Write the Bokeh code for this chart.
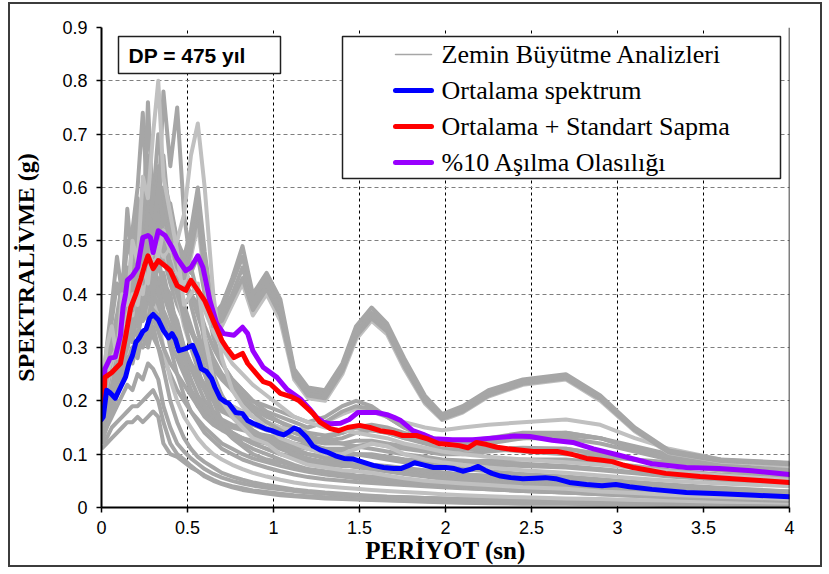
from bokeh.plotting import figure
from bokeh.models import Range1d, FixedTicker, CustomJSTickFormatter, Span, BoxAnnotation, Label
from bokeh.embed import file_html
from bokeh.resources import INLINE

# ---------------- data ----------------
# common period grid of the individual site-response spectra (s)
GX = [0.00, 0.03, 0.06, 0.09, 0.12, 0.15, 0.18, 0.21, 0.24, 0.27,
      0.30, 0.33, 0.36, 0.40, 0.44, 0.48, 0.52, 0.56, 0.60, 0.65,
      0.70, 0.76, 0.82, 0.88, 0.96, 1.04, 1.12, 1.20, 1.30, 1.40,
      1.48, 1.57, 1.66, 1.76, 1.88, 1.98, 2.10, 2.25, 2.45, 2.70,
      2.90, 3.10, 3.30, 3.60, 4.00]

A1 = [0.20, 0.27, 0.31, 0.34, 0.40, 0.44, 0.41, 0.50, 0.46, 0.55,
      0.52, 0.60, 0.53, 0.57, 0.50, 0.47, 0.52, 0.60, 0.48, 0.36,
      0.38, 0.43, 0.49, 0.40, 0.44, 0.39, 0.26, 0.225, 0.22, 0.27,
      0.34, 0.375, 0.345, 0.28, 0.21, 0.175, 0.19, 0.22, 0.24, 0.25,
      0.21, 0.15, 0.107, 0.09, 0.084]
A2 = [0.19, 0.25, 0.29, 0.32, 0.37, 0.41, 0.39, 0.47, 0.43, 0.51,
      0.49, 0.55, 0.50, 0.53, 0.47, 0.45, 0.50, 0.57, 0.46, 0.35,
      0.37, 0.42, 0.47, 0.39, 0.43, 0.38, 0.255, 0.22, 0.215, 0.265,
      0.33, 0.365, 0.34, 0.275, 0.205, 0.17, 0.185, 0.215, 0.238, 0.247,
      0.207, 0.148, 0.105, 0.089, 0.083]
A3 = [0.18, 0.24, 0.28, 0.31, 0.35, 0.39, 0.37, 0.45, 0.42, 0.48,
      0.47, 0.53, 0.48, 0.50, 0.45, 0.43, 0.48, 0.55, 0.44, 0.34,
      0.36, 0.40, 0.45, 0.38, 0.42, 0.37, 0.25, 0.215, 0.21, 0.26,
      0.325, 0.36, 0.335, 0.27, 0.20, 0.168, 0.182, 0.212, 0.235, 0.244,
      0.204, 0.146, 0.104, 0.088, 0.082]
A4 = [0.21, 0.26, 0.30, 0.35, 0.38, 0.43, 0.40, 0.49, 0.44, 0.53,
      0.50, 0.57, 0.51, 0.54, 0.48, 0.44, 0.49, 0.58, 0.45, 0.34,
      0.35, 0.39, 0.43, 0.37, 0.41, 0.36, 0.245, 0.21, 0.205, 0.255,
      0.32, 0.355, 0.33, 0.265, 0.198, 0.166, 0.18, 0.21, 0.232, 0.242,
      0.203, 0.145, 0.103, 0.087, 0.081]
A5 = [0.17, 0.23, 0.27, 0.30, 0.34, 0.38, 0.36, 0.44, 0.40, 0.47,
      0.45, 0.51, 0.47, 0.49, 0.44, 0.42, 0.47, 0.53, 0.43, 0.33,
      0.34, 0.38, 0.42, 0.36, 0.40, 0.35, 0.24, 0.205, 0.20, 0.25,
      0.315, 0.35, 0.325, 0.26, 0.195, 0.164, 0.178, 0.208, 0.23, 0.24,
      0.20, 0.143, 0.102, 0.086, 0.080]
B1 = [0.22, 0.30, 0.34, 0.28, 0.40, 0.38, 0.50, 0.46, 0.62, 0.58,
      0.70, 0.80, 0.62, 0.55, 0.48, 0.38, 0.40, 0.42, 0.32, 0.24,
      0.20, 0.17, 0.15, 0.13, 0.12, 0.10, 0.09, 0.08, 0.075, 0.07,
      0.068, 0.065, 0.06, 0.055, 0.05, 0.048, 0.045, 0.042, 0.038, 0.035,
      0.03, 0.027, 0.024, 0.02, 0.016]
B2 = [0.18, 0.26, 0.30, 0.36, 0.32, 0.45, 0.40, 0.56, 0.50, 0.76,
      0.55, 0.60, 0.66, 0.52, 0.45, 0.36, 0.33, 0.30, 0.25, 0.20,
      0.16, 0.14, 0.12, 0.11, 0.10, 0.09, 0.08, 0.072, 0.068, 0.065,
      0.06, 0.058, 0.055, 0.05, 0.046, 0.043, 0.04, 0.037, 0.034, 0.03,
      0.027, 0.024, 0.021, 0.018, 0.014]
B3 = [0.16, 0.22, 0.28, 0.32, 0.40, 0.36, 0.52, 0.60, 0.74, 0.55,
      0.62, 0.50, 0.58, 0.45, 0.42, 0.35, 0.30, 0.26, 0.22, 0.18,
      0.15, 0.13, 0.115, 0.10, 0.09, 0.085, 0.078, 0.07, 0.065, 0.06,
      0.056, 0.053, 0.05, 0.047, 0.044, 0.041, 0.038, 0.035, 0.032, 0.028,
      0.025, 0.022, 0.019, 0.016, 0.012]
B4 = [0.20, 0.27, 0.25, 0.33, 0.30, 0.38, 0.45, 0.42, 0.52, 0.48,
      0.60, 0.56, 0.78, 0.64, 0.75, 0.55, 0.45, 0.40, 0.30, 0.25,
      0.21, 0.18, 0.16, 0.14, 0.125, 0.115, 0.10, 0.09, 0.085, 0.08,
      0.076, 0.072, 0.068, 0.063, 0.058, 0.054, 0.05, 0.046, 0.042, 0.038,
      0.034, 0.03, 0.027, 0.024, 0.02]
B5 = [0.19, 0.25, 0.28, 0.30, 0.35, 0.33, 0.40, 0.38, 0.45, 0.42,
      0.50, 0.47, 0.52, 0.48, 0.50, 0.55, 0.66, 0.72, 0.60, 0.40,
      0.28, 0.22, 0.19, 0.17, 0.15, 0.13, 0.12, 0.11, 0.10, 0.10,
      0.11, 0.12, 0.115, 0.10, 0.09, 0.085, 0.08, 0.075, 0.07, 0.065,
      0.06, 0.055, 0.05, 0.045, 0.04]
B6 = [0.20, 0.30, 0.38, 0.47, 0.40, 0.56, 0.45, 0.52, 0.48, 0.60,
      0.52, 0.64, 0.55, 0.50, 0.44, 0.38, 0.34, 0.30, 0.26, 0.22,
      0.19, 0.17, 0.15, 0.135, 0.12, 0.11, 0.10, 0.092, 0.085, 0.08,
      0.076, 0.072, 0.068, 0.064, 0.06, 0.056, 0.052, 0.048, 0.044, 0.04,
      0.036, 0.032, 0.029, 0.025, 0.02]
C1 = [0.17, 0.22, 0.26, 0.30, 0.35, 0.40, 0.45, 0.42, 0.50, 0.47,
      0.55, 0.52, 0.48, 0.45, 0.40, 0.34, 0.30, 0.27, 0.25, 0.22,
      0.20, 0.19, 0.18, 0.17, 0.16, 0.15, 0.145, 0.15, 0.16, 0.175,
      0.185, 0.18, 0.17, 0.16, 0.15, 0.145, 0.15, 0.155, 0.16, 0.165,
      0.155, 0.13, 0.11, 0.09, 0.075]
C2 = [0.15, 0.20, 0.24, 0.28, 0.30, 0.35, 0.38, 0.36, 0.44, 0.40,
      0.46, 0.42, 0.44, 0.38, 0.35, 0.30, 0.27, 0.24, 0.22, 0.20,
      0.18, 0.17, 0.16, 0.155, 0.15, 0.14, 0.13, 0.125, 0.13, 0.14,
      0.15, 0.145, 0.14, 0.13, 0.125, 0.12, 0.125, 0.13, 0.14, 0.14,
      0.13, 0.11, 0.095, 0.08, 0.065]
C3 = [0.14, 0.18, 0.22, 0.25, 0.28, 0.32, 0.35, 0.40, 0.38, 0.45,
      0.42, 0.48, 0.40, 0.36, 0.32, 0.28, 0.24, 0.21, 0.19, 0.17,
      0.16, 0.15, 0.145, 0.14, 0.135, 0.13, 0.12, 0.115, 0.11, 0.11,
      0.115, 0.12, 0.115, 0.11, 0.105, 0.10, 0.10, 0.105, 0.11, 0.11,
      0.10, 0.09, 0.08, 0.07, 0.06]
C4 = [0.16, 0.21, 0.25, 0.27, 0.33, 0.30, 0.38, 0.34, 0.42, 0.39,
      0.44, 0.40, 0.42, 0.40, 0.33, 0.29, 0.26, 0.23, 0.20, 0.18,
      0.165, 0.155, 0.15, 0.14, 0.13, 0.125, 0.115, 0.11, 0.105, 0.10,
      0.10, 0.098, 0.095, 0.09, 0.088, 0.085, 0.085, 0.088, 0.09, 0.09,
      0.085, 0.078, 0.07, 0.062, 0.055]
C5 = [0.13, 0.19, 0.23, 0.26, 0.29, 0.34, 0.31, 0.38, 0.35, 0.41,
      0.38, 0.43, 0.37, 0.34, 0.30, 0.26, 0.22, 0.19, 0.17, 0.155,
      0.145, 0.135, 0.13, 0.125, 0.12, 0.115, 0.105, 0.10, 0.095, 0.095,
      0.10, 0.10, 0.095, 0.09, 0.085, 0.08, 0.08, 0.08, 0.078, 0.075,
      0.07, 0.064, 0.058, 0.052, 0.046]
C6 = [0.15, 0.20, 0.26, 0.24, 0.30, 0.36, 0.33, 0.40, 0.37, 0.43,
      0.40, 0.46, 0.42, 0.38, 0.34, 0.30, 0.27, 0.25, 0.23, 0.21,
      0.19, 0.175, 0.165, 0.155, 0.145, 0.14, 0.13, 0.125, 0.12, 0.12,
      0.125, 0.125, 0.12, 0.115, 0.11, 0.105, 0.11, 0.12, 0.13, 0.135,
      0.13, 0.115, 0.10, 0.088, 0.078]
D1 = [0.14, 0.17, 0.20, 0.22, 0.25, 0.28, 0.30, 0.28, 0.33, 0.30,
      0.34, 0.30, 0.26, 0.20, 0.16, 0.13, 0.11, 0.095, 0.085, 0.075,
      0.065, 0.058, 0.052, 0.047, 0.042, 0.038, 0.034, 0.031, 0.028, 0.026,
      0.024, 0.022, 0.02, 0.019, 0.018, 0.017, 0.016, 0.015, 0.013, 0.012,
      0.011, 0.01, 0.009, 0.008, 0.007]
D2 = [0.12, 0.13, 0.15, 0.16, 0.17, 0.18, 0.19, 0.19, 0.20, 0.21,
      0.22, 0.20, 0.16, 0.12, 0.10, 0.09, 0.078, 0.068, 0.06, 0.052,
      0.045, 0.04, 0.036, 0.032, 0.029, 0.026, 0.023, 0.021, 0.019, 0.018,
      0.016, 0.015, 0.014, 0.013, 0.012, 0.011, 0.01, 0.009, 0.008, 0.008,
      0.007, 0.007, 0.006, 0.006, 0.005]
D3 = [0.15, 0.19, 0.23, 0.26, 0.28, 0.31, 0.35, 0.33, 0.38, 0.36,
      0.40, 0.35, 0.30, 0.24, 0.20, 0.17, 0.15, 0.13, 0.115, 0.10,
      0.09, 0.08, 0.072, 0.065, 0.058, 0.052, 0.047, 0.043, 0.04, 0.037,
      0.035, 0.033, 0.031, 0.029, 0.027, 0.025, 0.023, 0.021, 0.019, 0.017,
      0.016, 0.014, 0.013, 0.011, 0.009]
D4 = [0.13, 0.15, 0.17, 0.19, 0.21, 0.23, 0.22, 0.25, 0.24, 0.27,
      0.26, 0.24, 0.19, 0.15, 0.12, 0.105, 0.092, 0.082, 0.072, 0.063,
      0.056, 0.05, 0.045, 0.041, 0.037, 0.034, 0.031, 0.028, 0.026, 0.024,
      0.022, 0.021, 0.02, 0.019, 0.018, 0.017, 0.016, 0.015, 0.014, 0.013,
      0.012, 0.011, 0.01, 0.009, 0.008]
D5 = [0.16, 0.20, 0.24, 0.27, 0.31, 0.34, 0.38, 0.36, 0.42, 0.40,
      0.44, 0.40, 0.36, 0.30, 0.25, 0.21, 0.18, 0.16, 0.14, 0.125,
      0.11, 0.10, 0.09, 0.083, 0.075, 0.068, 0.062, 0.057, 0.053, 0.05,
      0.048, 0.046, 0.044, 0.042, 0.04, 0.038, 0.036, 0.034, 0.031, 0.028,
      0.026, 0.024, 0.022, 0.019, 0.016]
D6 = [0.11, 0.12, 0.13, 0.14, 0.15, 0.16, 0.16, 0.17, 0.16, 0.17,
      0.18, 0.17, 0.12, 0.10, 0.095, 0.085, 0.075, 0.068, 0.058, 0.05,
      0.044, 0.038, 0.033, 0.03, 0.026, 0.023, 0.021, 0.019, 0.017, 0.016,
      0.015, 0.014, 0.013, 0.012, 0.011, 0.01, 0.009, 0.008, 0.007, 0.007,
      0.006, 0.006, 0.005, 0.005, 0.004]
E1 = [0.18, 0.24, 0.28, 0.32, 0.36, 0.40, 0.44, 0.48, 0.45, 0.52,
      0.48, 0.55, 0.50, 0.46, 0.44, 0.42, 0.40, 0.38, 0.34, 0.30,
      0.27, 0.24, 0.22, 0.20, 0.19, 0.18, 0.17, 0.16, 0.17, 0.19,
      0.20, 0.19, 0.17, 0.15, 0.13, 0.12, 0.115, 0.11, 0.105, 0.10,
      0.095, 0.09, 0.085, 0.08, 0.07]
E2 = [0.17, 0.22, 0.27, 0.30, 0.34, 0.38, 0.42, 0.40, 0.47, 0.44,
      0.50, 0.46, 0.52, 0.44, 0.40, 0.36, 0.33, 0.31, 0.28, 0.26,
      0.24, 0.22, 0.20, 0.185, 0.17, 0.16, 0.15, 0.14, 0.135, 0.14,
      0.15, 0.155, 0.15, 0.14, 0.13, 0.12, 0.12, 0.125, 0.13, 0.13,
      0.12, 0.105, 0.09, 0.075, 0.062]
F1 = [0.16, 0.21, 0.25, 0.29, 0.33, 0.37, 0.42, 0.39, 0.46, 0.43,
      0.49, 0.45, 0.47, 0.42, 0.38, 0.35, 0.33, 0.31, 0.29, 0.27,
      0.25, 0.23, 0.21, 0.19, 0.175, 0.16, 0.145, 0.135, 0.125, 0.12,
      0.115, 0.11, 0.105, 0.10, 0.095, 0.09, 0.088, 0.085, 0.082, 0.078,
      0.072, 0.066, 0.06, 0.052, 0.045]
F2 = [0.14, 0.19, 0.23, 0.27, 0.31, 0.29, 0.36, 0.34, 0.40, 0.37,
      0.42, 0.39, 0.36, 0.33, 0.31, 0.29, 0.27, 0.25, 0.23, 0.21,
      0.19, 0.17, 0.155, 0.14, 0.13, 0.12, 0.11, 0.10, 0.095, 0.09,
      0.085, 0.08, 0.076, 0.072, 0.068, 0.064, 0.06, 0.056, 0.052, 0.048,
      0.044, 0.04, 0.036, 0.031, 0.026]
F3 = [0.18, 0.25, 0.31, 0.36, 0.42, 0.38, 0.47, 0.44, 0.55, 0.50,
      0.58, 0.53, 0.60, 0.52, 0.47, 0.43, 0.40, 0.36, 0.32, 0.28,
      0.25, 0.22, 0.20, 0.18, 0.16, 0.145, 0.13, 0.12, 0.11, 0.105,
      0.10, 0.095, 0.09, 0.085, 0.08, 0.076, 0.072, 0.068, 0.063, 0.058,
      0.053, 0.048, 0.043, 0.037, 0.03]
F4 = [0.15, 0.20, 0.22, 0.26, 0.29, 0.33, 0.31, 0.37, 0.35, 0.39,
      0.37, 0.36, 0.34, 0.31, 0.28, 0.25, 0.22, 0.20, 0.18, 0.165,
      0.15, 0.14, 0.13, 0.12, 0.11, 0.10, 0.095, 0.09, 0.085, 0.08,
      0.078, 0.075, 0.072, 0.068, 0.065, 0.062, 0.058, 0.054, 0.05, 0.046,
      0.042, 0.038, 0.034, 0.03, 0.025]
F5 = [0.13, 0.16, 0.19, 0.22, 0.25, 0.28, 0.27, 0.31, 0.30, 0.33,
      0.32, 0.30, 0.28, 0.25, 0.22, 0.20, 0.18, 0.165, 0.15, 0.135,
      0.12, 0.11, 0.10, 0.092, 0.085, 0.078, 0.072, 0.067, 0.062, 0.058,
      0.055, 0.052, 0.049, 0.046, 0.043, 0.04, 0.037, 0.034, 0.031, 0.028,
      0.025, 0.022, 0.02, 0.017, 0.014]
F6 = [0.17, 0.23, 0.29, 0.34, 0.38, 0.43, 0.40, 0.50, 0.45, 0.56,
      0.51, 0.62, 0.57, 0.52, 0.48, 0.45, 0.42, 0.40, 0.37, 0.33,
      0.30, 0.27, 0.25, 0.23, 0.21, 0.19, 0.17, 0.16, 0.15, 0.145,
      0.14, 0.135, 0.13, 0.12, 0.112, 0.105, 0.10, 0.095, 0.09, 0.085,
      0.08, 0.074, 0.068, 0.06, 0.052]
F7 = [0.19, 0.28, 0.35, 0.42, 0.38, 0.50, 0.46, 0.58, 0.52, 0.66,
      0.58, 0.70, 0.62, 0.56, 0.50, 0.44, 0.38, 0.33, 0.28, 0.24,
      0.21, 0.18, 0.16, 0.145, 0.13, 0.12, 0.11, 0.10, 0.092, 0.086,
      0.08, 0.075, 0.07, 0.066, 0.062, 0.058, 0.054, 0.05, 0.046, 0.042,
      0.038, 0.034, 0.03, 0.026, 0.021]
F8 = [0.12, 0.15, 0.18, 0.21, 0.24, 0.27, 0.30, 0.29, 0.33, 0.31,
      0.36, 0.33, 0.30, 0.27, 0.25, 0.23, 0.21, 0.19, 0.175, 0.16,
      0.15, 0.14, 0.13, 0.12, 0.11, 0.10, 0.092, 0.085, 0.08, 0.078,
      0.078, 0.08, 0.078, 0.074, 0.07, 0.066, 0.062, 0.06, 0.058, 0.055,
      0.05, 0.045, 0.04, 0.035, 0.03]
F9 = [0.16, 0.22, 0.27, 0.32, 0.36, 0.41, 0.39, 0.46, 0.44, 0.50,
      0.47, 0.53, 0.50, 0.55, 0.50, 0.46, 0.44, 0.47, 0.40, 0.32,
      0.27, 0.24, 0.22, 0.20, 0.18, 0.17, 0.16, 0.15, 0.16, 0.18,
      0.19, 0.185, 0.17, 0.15, 0.135, 0.125, 0.12, 0.125, 0.135, 0.14,
      0.13, 0.11, 0.095, 0.08, 0.068]
F10 = [0.14, 0.18, 0.21, 0.24, 0.27, 0.30, 0.34, 0.32, 0.37, 0.35,
       0.40, 0.38, 0.35, 0.32, 0.30, 0.28, 0.26, 0.245, 0.23, 0.215,
       0.20, 0.19, 0.18, 0.17, 0.16, 0.15, 0.14, 0.13, 0.125, 0.13,
       0.14, 0.145, 0.14, 0.13, 0.12, 0.11, 0.108, 0.11, 0.112, 0.11,
       0.10, 0.09, 0.08, 0.07, 0.06]

GRAY_CURVES = [D2, D6, D4, F5, D1, D3, F2, D5, F4, F8, C5, C4, C3, F10, C2,
               C6, F1, C1, E2, E1, F9, F6, F3, F7, B6, B3, B2, B4,
               A5, A4, A3, A2, A1, B5, B1]
LIGHT_CURVES = [B1, B5, A5, C1, D3, F6, F2]

# mean spectrum
MEAN_X = [0.00, 0.01, 0.03, 0.05, 0.08, 0.11, 0.14, 0.16, 0.18, 0.20,
          0.22, 0.24, 0.26, 0.28, 0.30, 0.33, 0.36, 0.39, 0.41, 0.43,
          0.45, 0.49, 0.53, 0.56, 0.58, 0.61, 0.64, 0.66, 0.69, 0.72,
          0.74, 0.78, 0.82, 0.85, 0.88, 0.91, 0.95, 0.99, 1.03, 1.06,
          1.09, 1.12, 1.15, 1.19, 1.23, 1.27, 1.31, 1.36, 1.41, 1.46,
          1.52, 1.58, 1.64, 1.70, 1.74, 1.78, 1.82, 1.87, 1.93, 2.00,
          2.05, 2.10, 2.15, 2.19, 2.23, 2.27, 2.32, 2.38, 2.45, 2.52,
          2.58, 2.64, 2.72, 2.82, 2.91, 2.99, 3.07, 3.20, 3.40, 3.60,
          3.80, 4.00]
MEAN_Y = [0.165, 0.17, 0.22, 0.215, 0.205, 0.225, 0.245, 0.27, 0.285, 0.31,
          0.318, 0.33, 0.335, 0.355, 0.362, 0.352, 0.332, 0.318, 0.326, 0.315,
          0.294, 0.298, 0.304, 0.281, 0.26, 0.255, 0.242, 0.225, 0.205, 0.198,
          0.195, 0.178, 0.176, 0.163, 0.158, 0.154, 0.148, 0.144, 0.139, 0.136,
          0.142, 0.149, 0.145, 0.132, 0.115, 0.108, 0.104, 0.097, 0.092, 0.091,
          0.085, 0.079, 0.075, 0.073, 0.073, 0.078, 0.084, 0.08, 0.075, 0.075,
          0.073, 0.068, 0.072, 0.077, 0.07, 0.064, 0.059, 0.056, 0.054, 0.055,
          0.056, 0.054, 0.047, 0.043, 0.041, 0.043, 0.039, 0.034, 0.028, 0.026,
          0.023, 0.020]

# mean + standard deviation
MSTD_X = [0.00, 0.01, 0.02, 0.06, 0.11, 0.14, 0.17, 0.20, 0.23, 0.25,
          0.27, 0.30, 0.33, 0.37, 0.40, 0.44, 0.49, 0.52, 0.56, 0.60,
          0.65, 0.70, 0.73, 0.77, 0.82, 0.85, 0.90, 0.94, 0.98, 1.04,
          1.10, 1.15, 1.19, 1.23, 1.27, 1.33, 1.38, 1.43, 1.50, 1.56,
          1.62, 1.70, 1.75, 1.83, 1.90, 1.96, 2.02, 2.08, 2.13, 2.18,
          2.24, 2.30, 2.36, 2.43, 2.51, 2.58, 2.65, 2.73, 2.82, 2.90,
          2.97, 3.03, 3.09, 3.18, 3.28, 3.48, 3.67, 3.85, 4.00]
MSTD_Y = [0.18, 0.186, 0.244, 0.253, 0.27, 0.32, 0.375, 0.40, 0.43, 0.453,
          0.472, 0.448, 0.463, 0.453, 0.444, 0.416, 0.407, 0.426, 0.407, 0.388,
          0.35, 0.313, 0.298, 0.281, 0.289, 0.27, 0.251, 0.236, 0.232, 0.214,
          0.208, 0.20, 0.188, 0.176, 0.16, 0.148, 0.144, 0.15, 0.154, 0.15,
          0.144, 0.14, 0.135, 0.135, 0.128, 0.12, 0.118, 0.116, 0.112, 0.122,
          0.118, 0.113, 0.11, 0.108, 0.105, 0.105, 0.105, 0.1, 0.092, 0.089,
          0.086, 0.08, 0.075, 0.07, 0.064, 0.058, 0.054, 0.05, 0.047]

# 10 % probability of exceedance
P10_X = [0.00, 0.01, 0.02, 0.05, 0.08, 0.11, 0.125, 0.14, 0.15, 0.18,
         0.21, 0.24, 0.27, 0.285, 0.30, 0.33, 0.37, 0.41, 0.44, 0.49,
         0.52, 0.56, 0.59, 0.63, 0.67, 0.71, 0.77, 0.82, 0.85, 0.88,
         0.94, 1.02, 1.08, 1.155, 1.21, 1.25, 1.29, 1.33, 1.39, 1.44,
         1.49, 1.56, 1.60, 1.66, 1.70, 1.74, 1.81, 1.87, 1.93, 2.04,
         2.16, 2.30, 2.40, 2.49, 2.62, 2.74, 2.86, 3.01, 3.20, 3.40,
         3.59, 3.78, 4.00]
P10_Y = [0.19, 0.20, 0.26, 0.28, 0.282, 0.322, 0.375, 0.40, 0.426, 0.435,
         0.45, 0.506, 0.51, 0.506, 0.478, 0.519, 0.51, 0.488, 0.467, 0.444,
         0.45, 0.472, 0.45, 0.388, 0.345, 0.326, 0.323, 0.338, 0.326, 0.294,
         0.263, 0.244, 0.221, 0.204, 0.185, 0.169, 0.16, 0.157, 0.158, 0.165,
         0.178, 0.178, 0.178, 0.174, 0.169, 0.163, 0.144, 0.137, 0.129, 0.127,
         0.127, 0.131, 0.134, 0.133, 0.126, 0.122, 0.11, 0.098, 0.082, 0.075,
         0.073, 0.069, 0.062]

X_TICKS = [0, 0.5, 1, 1.5, 2, 2.5, 3, 3.5, 4]
Y_TICKS = [0, 0.1, 0.2, 0.3, 0.4, 0.5, 0.6, 0.7, 0.8, 0.9]

LEGEND_LABELS = ["Zemin Büyütme Analizleri", "Ortalama spektrum",
                 "Ortalama + Standart Sapma", "%10 Aşılma Olasılığı"]
BOX_TEXT = "DP = 475 yıl"
X_TITLE = "PERİYOT (sn)"
Y_TITLE = "SPEKTRALİVME (g)"

# ---------------- styling ----------------
GRAY_DARK = "#A6A6A6"
GRAY_LIGHT = "#C0C0C0"
COL_MEAN = "#0000FF"
COL_MSTD = "#FF0000"
COL_P10 = "#9900FF"

# page geometry (absolute page pixels)
CANVAS_X0, CANVAS_Y0 = 10, 4
CANVAS_W, CANVAS_H = 814, 565
FR_L, FR_R, FR_T, FR_B = 101, 789, 27, 507
XMIN, XMAX, YMIN, YMAX = 0.0, 4.0, 0.0, 0.9


def dx(px):
    return XMIN + (px - FR_L) * (XMAX - XMIN) / (FR_R - FR_L)


def dy(py):
    return YMIN + (FR_B - py) * (YMAX - YMIN) / (FR_B - FR_T)


p = figure(width=CANVAS_W, height=CANVAS_H,
           x_range=Range1d(XMIN, XMAX), y_range=Range1d(YMIN, YMAX),
           output_backend="svg", toolbar_location=None,
           min_border_left=FR_L - CANVAS_X0,
           min_border_right=CANVAS_X0 + CANVAS_W - FR_R,
           min_border_top=FR_T - CANVAS_Y0,
           min_border_bottom=CANVAS_Y0 + CANVAS_H - FR_B)
p.styles = {"margin-left": "8px", "margin-top": "2px",
            "border": "2px solid #3c3c3c"}
p.outline_line_color = None
p.background_fill_color = "white"
p.border_fill_color = "white"

fmt = CustomJSTickFormatter(code="return String(Math.round(tick * 10) / 10);")
for ax, ticks in ((p.xaxis[0], X_TICKS), (p.yaxis[0], Y_TICKS)):
    ax.ticker = FixedTicker(ticks=ticks)
    ax.formatter = fmt
    ax.axis_line_color = "black"
    ax.axis_line_width = 2
    ax.major_tick_line_color = "black"
    ax.major_tick_line_width = 1.5
    ax.major_tick_out = 5
    ax.major_tick_in = 0
    ax.minor_tick_line_color = None
    ax.major_label_text_font = "Liberation Sans"
    ax.major_label_text_font_size = "18px"
    ax.major_label_text_color = "black"
    ax.axis_label_text_font = "Liberation Serif"
    ax.axis_label_text_font_style = "bold"
    ax.axis_label_text_color = "black"

p.xaxis[0].axis_label = X_TITLE
p.xaxis[0].axis_label_text_font_size = "25px"
p.xaxis[0].major_label_standoff = 8
p.xaxis[0].axis_label_standoff = 0
p.yaxis[0].axis_label = Y_TITLE
p.yaxis[0].axis_label_text_font_size = "24px"
p.yaxis[0].major_label_standoff = 9
p.yaxis[0].axis_label_standoff = 20

p.xgrid.grid_line_color = "black"
p.xgrid.grid_line_dash = "3 3"
p.xgrid.grid_line_width = 1
p.ygrid.grid_line_color = "#7f7f7f"
p.ygrid.grid_line_dash = "4 3"
p.ygrid.grid_line_width = 1

p.add_layout(Span(location=XMAX, dimension="height", line_color="black", line_width=1.5))

# ---------------- curves ----------------
light_ids = {id(c) for c in LIGHT_CURVES}
for curve in GRAY_CURVES:
    col = GRAY_LIGHT if id(curve) in light_ids else GRAY_DARK
    p.line(GX, curve, line_color=col, line_width=4, line_join="round")

p.line(P10_X, P10_Y, line_color=COL_P10, line_width=5, line_join="round", line_cap="round")
p.line(MSTD_X, MSTD_Y, line_color=COL_MSTD, line_width=5, line_join="round", line_cap="round")
p.line(MEAN_X, MEAN_Y, line_color=COL_MEAN, line_width=5, line_join="round", line_cap="round")

# ---------------- "DP = 475 yil" box ----------------
p.add_layout(BoxAnnotation(left=dx(118), right=dx(280), top=dy(36), bottom=dy(73),
                           fill_color="white", fill_alpha=1.0,
                           line_color="#202020", line_width=1.5, line_alpha=1.0))
p.add_layout(Label(x=dx(128), y=dy(55), text=BOX_TEXT, text_font="Liberation Sans",
                   text_font_style="bold", text_font_size="21px", text_color="black",
                   text_baseline="middle", text_align="left"))

# ---------------- legend (drawn manually) ----------------
p.add_layout(BoxAnnotation(left=dx(342), right=dx(780), top=dy(36), bottom=dy(178),
                           fill_color="white", fill_alpha=1.0,
                           line_color="#202020", line_width=1.5, line_alpha=1.0))
row_y = [54, 90, 126, 162]
leg_cols = [GRAY_DARK, COL_MEAN, COL_MSTD, COL_P10]
leg_w = [1.5, 5, 5, 5]
for ry, lab, col, lw in zip(row_y, LEGEND_LABELS, leg_cols, leg_w):
    p.segment(x0=[dx(395)], y0=[dy(ry)], x1=[dx(431)], y1=[dy(ry)],
              line_color=col, line_width=lw, line_cap="round", level="overlay")
    p.add_layout(Label(x=dx(441), y=dy(ry), text=lab, text_font="Liberation Serif",
                       text_font_size="26px", text_color="black",
                       text_baseline="middle", text_align="left"))

open("out.html", "w").write(file_html(p, INLINE))
